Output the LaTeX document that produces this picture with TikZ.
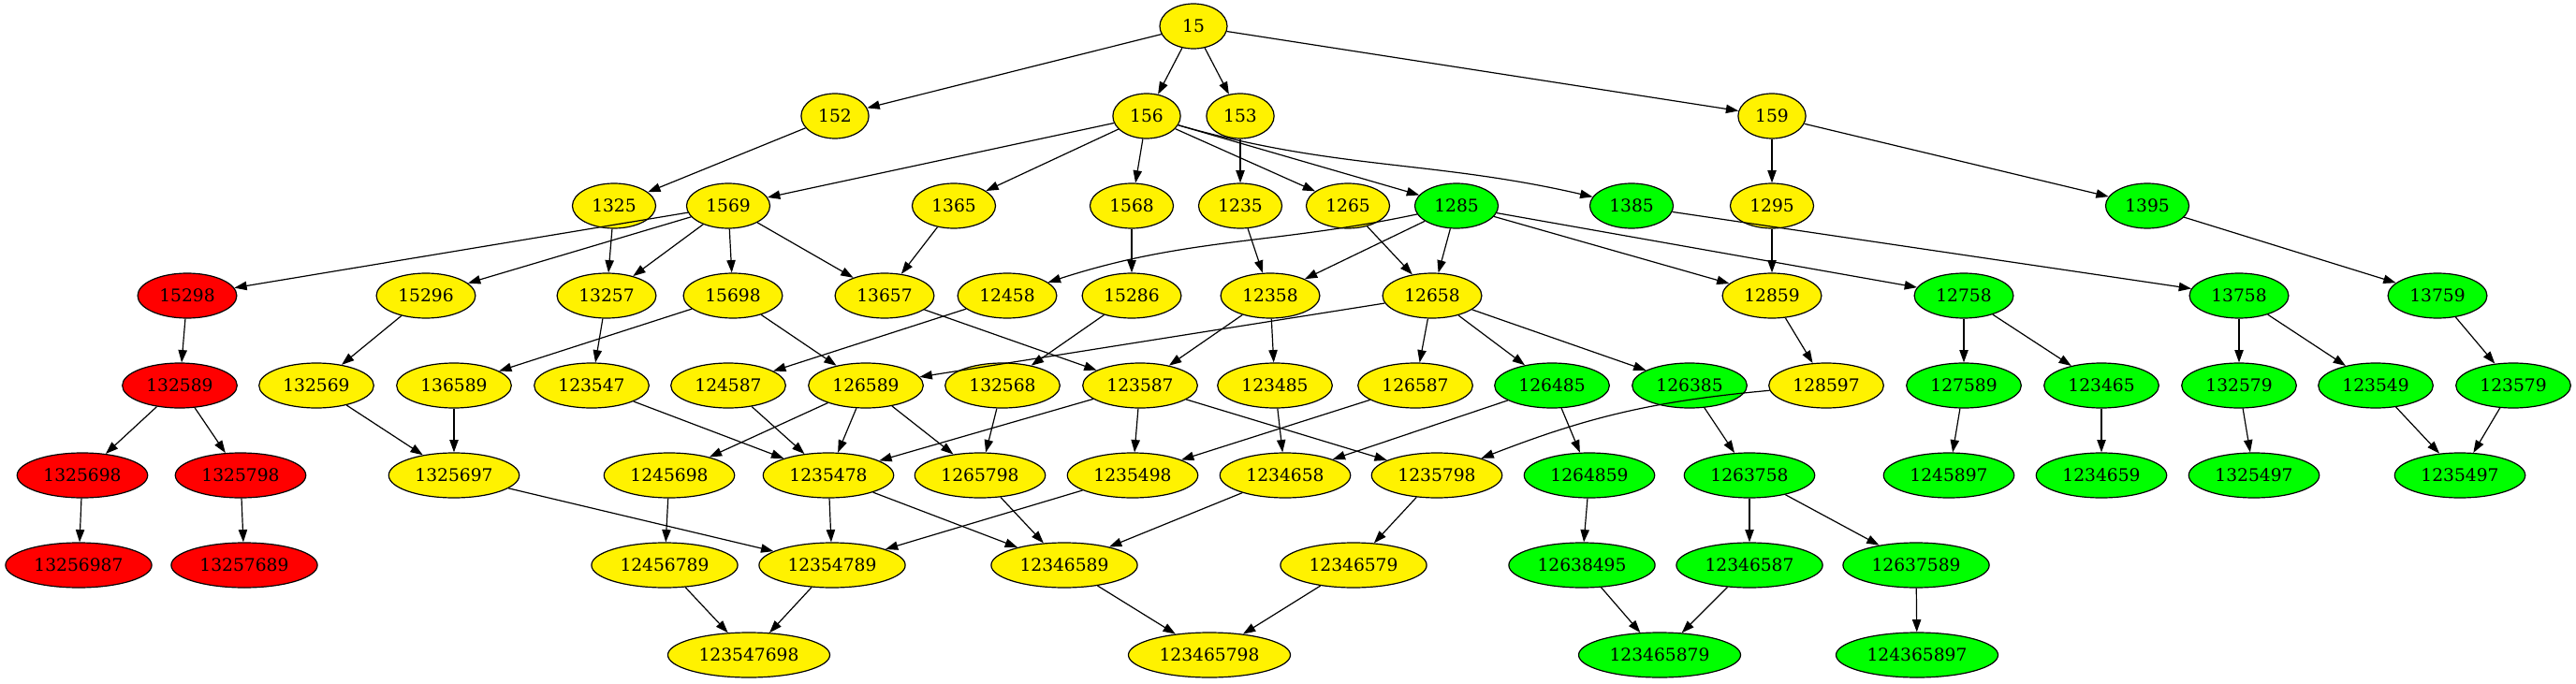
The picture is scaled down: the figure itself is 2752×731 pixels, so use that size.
\documentclass[tikz,border=0pt]{standalone}
\usepackage{fontspec}
\setmainfont{DejaVu Serif}
\usepackage{tikz}
\usetikzlibrary{shapes.geometric, arrows.meta}

\tikzset{
    perm/.style={ellipse, draw, line width=0.9pt, inner xsep=5.8pt, inner ysep=2pt,
        minimum width=54pt, minimum height=36pt, node font=\fontsize{14}{16}\selectfont},
    yellownode/.style={perm, fill=yellow},
    greennode/.style={perm, fill=green},
    rednode/.style={perm, fill=red},
    edge/.style={line width=0.9pt, -{Triangle[length=10pt,width=7pt]}}
}

\begin{document}
\begin{tikzpicture}[x=0.75pt, y=-0.75pt]
    \useasboundingbox (0,0) rectangle (2752,731); % margini
    % livello 0 e 1
    \node[yellownode] (n15) at (1275,28) {15};
    \node[yellownode] (n152) at (892,124) {152};
    \node[yellownode] (n156) at (1225,124) {156};
    \node[yellownode] (n153) at (1325,124) {153};
    \node[yellownode] (n159) at (1893,124) {159};
    % livello 2
    \node[yellownode] (n1325) at (656,220) {1325};
    \node[yellownode] (n1569) at (778,220) {1569};
    \node[yellownode] (n1365) at (1019,220) {1365};
    \node[yellownode] (n1568) at (1209,220) {1568};
    \node[yellownode] (n1235) at (1325,220) {1235};
    \node[yellownode] (n1265) at (1440,220) {1265};
    \node[greennode] (n1285) at (1556,220) {1285};
    \node[greennode] (n1385) at (1743,220) {1385};
    \node[yellownode] (n1295) at (1893,220) {1295};
    \node[greennode] (n1395) at (2294,220) {1395};
    % livello 3
    \node[rednode] (n15298) at (200,316) {15298};
    \node[yellownode] (n15296) at (455,316) {15296};
    \node[yellownode] (n13257) at (648,316) {13257};
    \node[yellownode] (n15698) at (783,316) {15698};
    \node[yellownode] (n13657) at (945,316) {13657};
    \node[yellownode] (n12458) at (1076,316) {12458};
    \node[yellownode] (n15286) at (1209,316) {15286};
    \node[yellownode] (n12358) at (1357,316) {12358};
    \node[yellownode] (n12658) at (1530,316) {12658};
    \node[yellownode] (n12859) at (1893,316) {12859};
    \node[greennode] (n12758) at (2098,316) {12758};
    \node[greennode] (n13758) at (2392,316) {13758};
    \node[greennode] (n13759) at (2604,316) {13759};
    % livello 4
    \node[rednode] (n132589) at (192,412) {132589};
    \node[yellownode] (n132569) at (338,412) {132569};
    \node[yellownode] (n136589) at (485,412) {136589};
    \node[yellownode] (n123547) at (632,412) {123547};
    \node[yellownode] (n124587) at (778,412) {124587};
    \node[yellownode] (n126589) at (925,412) {126589};
    \node[yellownode] (n132568) at (1071,412) {132568};
    \node[yellownode] (n123587) at (1218,412) {123587};
    \node[yellownode] (n123485) at (1362,412) {123485};
    \node[yellownode] (n126587) at (1512,412) {126587};
    \node[greennode] (n126485) at (1658,412) {126485};
    \node[greennode] (n126385) at (1805,412) {126385};
    \node[yellownode] (n128597) at (1951,412) {128597};
    \node[greennode] (n127589) at (2098,412) {127589};
    \node[greennode] (n123465) at (2245,412) {123465};
    \node[greennode] (n132579) at (2392,412) {132579};
    \node[greennode] (n123549) at (2538,412) {123549};
    \node[greennode] (n123579) at (2685,412) {123579};
    % livello 5
    \node[rednode] (n1325698) at (88,508) {1325698};
    \node[rednode] (n1325798) at (257,508) {1325798};
    \node[yellownode] (n1325697) at (485,508) {1325697};
    \node[yellownode] (n1245698) at (715,508) {1245698};
    \node[yellownode] (n1235478) at (885,508) {1235478};
    \node[yellownode] (n1265798) at (1047,508) {1265798};
    \node[yellownode] (n1235498) at (1210,508) {1235498};
    \node[yellownode] (n1234658) at (1373,508) {1234658};
    \node[yellownode] (n1235798) at (1535,508) {1235798};
    \node[greennode] (n1264859) at (1698,508) {1264859};
    \node[greennode] (n1263758) at (1869,508) {1263758};
    \node[greennode] (n1245897) at (2082,508) {1245897};
    \node[greennode] (n1234659) at (2245,508) {1234659};
    \node[greennode] (n1325497) at (2408,508) {1325497};
    \node[greennode] (n1235497) at (2628,508) {1235497};
    % livello 6
    \node[rednode] (n13256987) at (84,604) {13256987};
    \node[rednode] (n13257689) at (261,604) {13257689};
    \node[yellownode] (n12456789) at (710,604) {12456789};
    \node[yellownode] (n12354789) at (889,604) {12354789};
    \node[yellownode] (n12346589) at (1137,604) {12346589};
    \node[yellownode] (n12346579) at (1446,604) {12346579};
    \node[greennode] (n12638495) at (1690,604) {12638495};
    \node[greennode] (n12346587) at (1869,604) {12346587};
    \node[greennode] (n12637589) at (2047,604) {12637589};
    % livello 7
    \node[yellownode] (n123547698) at (800,700) {123547698};
    \node[yellownode] (n123465798) at (1292,700) {123465798};
    \node[greennode] (n123465879) at (1773,700) {123465879};
    \node[greennode] (n124365897) at (2048,700) {124365897};

    % archi dritti
    \foreach \a/\b in {15/152, 15/156, 15/153, 15/159,
        152/1325, 156/1569, 156/1365, 156/1568, 156/1265, 156/1285, 153/1235, 159/1295, 159/1395,
        1325/13257, 1569/15298, 1569/15296, 1569/13257, 1569/15698, 1569/13657,
        1365/13657, 1568/15286, 1235/12358, 1265/12658,
        1285/12358, 1285/12658, 1285/12859, 1285/12758, 1385/13758, 1295/12859, 1395/13759,
        15298/132589, 15296/132569, 13257/123547, 15698/136589, 15698/126589,
        13657/123587, 12458/124587, 15286/132568, 12358/123587, 12358/123485,
        12658/126589, 12658/126587, 12658/126485, 12658/126385, 12859/128597,
        12758/127589, 12758/123465, 13758/132579, 13758/123549, 13759/123579,
        132589/1325698, 132589/1325798, 132569/1325697, 136589/1325697,
        123547/1235478, 124587/1235478, 126589/1245698, 126589/1235478, 126589/1265798,
        132568/1265798, 123587/1235478, 123587/1235498, 123587/1235798,
        123485/1234658, 126587/1235498, 126485/1234658, 126485/1264859,
        126385/1263758, 127589/1245897, 123465/1234659, 132579/1325497,
        123549/1235497, 123579/1235497,
        1325698/13256987, 1325798/13257689, 1325697/12354789, 1245698/12456789,
        1235478/12354789, 1235478/12346589, 1265798/12346589, 1235498/12354789,
        1234658/12346589, 1235798/12346579, 1264859/12638495,
        1263758/12346587, 1263758/12637589,
        12456789/123547698, 12354789/123547698, 12346589/123465798, 12346579/123465798,
        12638495/123465879, 12346587/123465879, 12637589/124365897}
        \draw[edge] (n\a) -- (n\b);

    % archi curvi
    \draw[edge] (n156) to[out=-16, in=167] (n1385);
    \draw[edge] (n1285) to[out=192, in=18] (n12458);
    \draw[edge] (n128597) to[bend right=8] (n1235798);
\end{tikzpicture}
\end{document}
